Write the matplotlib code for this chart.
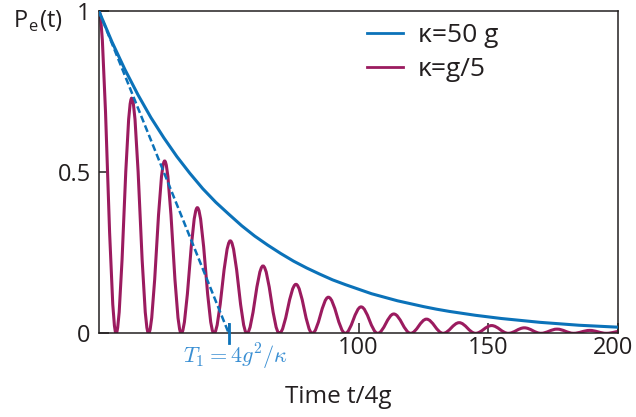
import matplotlib
matplotlib.use("Agg")
import matplotlib.pyplot as plt
import matplotlib.transforms as mtransforms
from matplotlib.path import Path
from matplotlib.patches import PathPatch
from matplotlib.lines import Line2D

plt.rcParams['font.family'] = ['Open Sans', 'DejaVu Sans']
plt.rcParams['mathtext.fontset'] = 'cm'

# kappa = 50 g : smooth decay, read every 5 units of t/4g
t_strong = [0, 5, 10, 15, 20, 25, 30, 35, 40, 45, 50, 55, 60, 65, 70, 75, 80, 85, 90, 95,
            100, 105, 110, 115, 120, 125, 130, 135, 140, 145, 150, 155, 160, 165, 170,
            175, 180, 185, 190, 195, 200]
p_strong = [1.000, 0.905, 0.819, 0.741, 0.670, 0.607, 0.549, 0.497, 0.449, 0.407, 0.370,
            0.334, 0.302, 0.274, 0.248, 0.224, 0.203, 0.184, 0.166, 0.151, 0.137, 0.123,
            0.112, 0.101, 0.092, 0.083, 0.075, 0.068, 0.062, 0.056, 0.051, 0.046, 0.042,
            0.038, 0.034, 0.031, 0.028, 0.025, 0.023, 0.021, 0.019]

# kappa = g/5 : oscillation maxima and the zeros in between
peak_t = [0, 12.6, 25.3, 37.9, 50.6, 63.2, 75.9, 88.4, 101.0, 113.6, 126.2, 138.8,
          151.3, 163.9, 176.5, 189.1, 201.7]
peak_p = [1.0, 0.73, 0.535, 0.39, 0.287, 0.209, 0.152, 0.112, 0.082, 0.060, 0.044,
          0.033, 0.024, 0.017, 0.013, 0.009, 0.007]
zero_t = [6.6, 19.1, 31.7, 44.3, 57.0, 69.5, 82.2, 94.9, 107.4, 120.1, 132.6, 145.1,
          157.7, 170.3, 182.9, 195.5]

# tangent at t=0 and T1
tang_t = [0, 50]
tang_p = [1, 0]
T1 = 50

blue = '#0b72b9'
purple = '#9b1b5f'
ink = '#231f20'

fig = plt.figure(figsize=(6.36, 4.17), dpi=100)
ax = fig.add_axes([99/636, (417-333.3)/417, (618-99)/636, (333.3-11.3)/417])

# damped oscillation drawn as sin^2-like lobes with bezier segments
a = 0.3634
verts = [(peak_t[0], peak_p[0])]
codes = [Path.MOVETO]
for i in range(len(zero_t)):
    x0, y0 = peak_t[i], peak_p[i]
    x1, y1 = peak_t[i+1], peak_p[i+1]
    z = zero_t[i]
    h = z - x0
    verts += [(x0 + a*h, y0), (z - a*h, 0), (z, 0)]
    h = x1 - z
    verts += [(z + a*h, 0), (x1 - a*h, y1), (x1, y1)]
    codes += [Path.CURVE4]*6
ax.add_patch(PathPatch(Path(verts, codes), fill=False, edgecolor=purple, lw=2.2, zorder=2))

ax.plot(t_strong, p_strong, color=blue, lw=2.2, zorder=3)
ax.plot(tang_t, tang_p, color=blue, lw=1.8, ls=(0, (2.8, 1.3)), zorder=4)
ax.plot([T1, T1], [0.03, -0.03], color=blue, lw=2, clip_on=False, zorder=5)

ax.set_xlim(0, 200)
ax.set_ylim(0, 1)
ax.set_xticks([50, 100, 150, 200])
ax.set_xticklabels(['', '100', '150', '200'])
ax.set_yticks([0, 0.5, 1])
ax.set_yticklabels(['0', '0.5', '1'])
ax.tick_params(direction='in', length=7, width=1.1, color=ink, labelcolor=ink, labelsize=17)
ax.tick_params(axis='x', pad=2)
ax.tick_params(axis='y', pad=6)
for s in ax.spines.values():
    s.set_color(ink)
    s.set_linewidth(1.1)

# keep the last x label inside the picture
lab = ax.get_xticklabels()[-1]
lab.set_transform(lab.get_transform() + mtransforms.ScaledTranslation(-5/100, 0, fig.dpi_scale_trans))

ax.text(52.4, -0.074, r'$T_1 = 4g^2/\kappa$', color='#3a8fd3', fontsize=16,
        ha='center', va='center')

fig.text(285/636, 1-403/417, 'Time t/4g', color=ink, fontsize=17.5, ha='left', va='baseline')
fig.text(13/636, 1-28/417, r'P$_\mathregular{e}$(t)', color=ink, fontsize=17,
         ha='left', va='baseline')

handles = [Line2D([], [], color=blue, lw=2), Line2D([], [], color=purple, lw=2)]
ax.legend(handles, ['κ=50 g', 'κ=g/5'], loc='upper left', frameon=False,
          bbox_to_anchor=(367/636, 1-23/417), bbox_transform=fig.transFigure,
          borderaxespad=0, borderpad=0, fontsize=19, handlelength=1.37,
          handletextpad=0.57, labelspacing=0.36, labelcolor=ink)

fig.savefig('out.png', dpi=100)
